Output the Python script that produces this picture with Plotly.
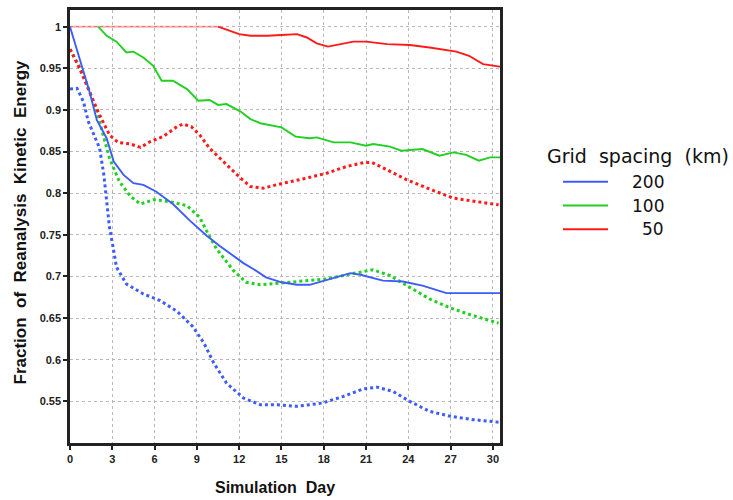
import plotly.graph_objects as go

# Simulation day / fraction of reanalysis kinetic energy, per grid spacing.
# Solid and dotted curves are the two experiment variants for each spacing.
day_200_solid = [0, 0.7, 1.4, 1.9, 2.6, 3.1, 3.8, 4.5, 5.2, 6.1, 7.3, 8.5, 9.7, 10.6, 11.1,
                 12.3, 13.0, 13.9, 15.0, 16.1, 17.0, 18.4, 19.9, 20.6, 22.2, 23.6, 25.0,
                 26.7, 28.1, 30.5]
ke_200_solid = [1.0, 0.961, 0.921, 0.888, 0.866, 0.838, 0.822, 0.812, 0.810, 0.802, 0.787,
                0.767, 0.749, 0.737, 0.731, 0.716, 0.709, 0.699, 0.693, 0.690, 0.690, 0.697,
                0.704, 0.702, 0.695, 0.694, 0.689, 0.680, 0.680, 0.680]

day_200_dotted = [0, 0.5, 0.95, 1.3, 1.65, 2.1, 2.4, 2.6, 2.8, 3.1, 3.3, 4.0, 5.2, 6.4, 7.6,
                  8.7, 9.5, 10.2, 11.1, 12.3, 13.5, 14.7, 16.1, 17.9, 19.4, 20.8, 21.8, 22.9,
                  24.1, 25.5, 27.0, 28.6, 30.4]
ke_200_dotted = [0.925, 0.926, 0.910, 0.886, 0.872, 0.854, 0.822, 0.790, 0.759, 0.731, 0.711,
                 0.691, 0.679, 0.671, 0.658, 0.640, 0.620, 0.596, 0.572, 0.554, 0.546, 0.546,
                 0.544, 0.548, 0.556, 0.565, 0.567, 0.562, 0.550, 0.538, 0.532, 0.528, 0.525]

day_100_solid = [2.0, 2.6, 3.3, 4.0, 4.5, 5.2, 5.9, 6.5, 7.3, 8.3, 9.1, 9.9, 10.5, 11.1, 12.1,
                 12.8, 13.5, 15.0, 16.0, 17.0, 17.5, 18.7, 19.9, 21.0, 21.5, 22.7, 23.5, 25.0,
                 26.2, 27.2, 28.1, 29.0, 29.8, 30.5]
ke_100_solid = [1.0, 0.989, 0.982, 0.969, 0.970, 0.963, 0.953, 0.935, 0.935, 0.925, 0.911,
                0.912, 0.906, 0.907, 0.898, 0.889, 0.884, 0.879, 0.868, 0.866, 0.867, 0.861,
                0.861, 0.857, 0.859, 0.856, 0.851, 0.853, 0.845, 0.849, 0.846, 0.839, 0.843,
                0.843]

day_100_dotted = [0, 0.95, 1.9, 2.4, 2.8, 3.5, 4.3, 5.0, 5.9, 6.6, 7.3, 8.3, 9.2, 9.8, 10.4,
                  11.6, 12.5, 13.5, 14.2, 15.8, 18.2, 19.9, 21.5, 22.7, 24.1, 25.5, 27.0,
                  28.4, 30.4]
ke_100_dotted = [0.973, 0.943, 0.898, 0.866, 0.842, 0.814, 0.796, 0.787, 0.792, 0.791, 0.789,
                 0.785, 0.771, 0.751, 0.733, 0.707, 0.693, 0.690, 0.691, 0.693, 0.697, 0.703,
                 0.708, 0.701, 0.687, 0.673, 0.662, 0.654, 0.644]

day_50_solid = [0, 10.5, 11.2, 12.0, 12.8, 14.0, 15.0, 16.1, 16.8, 17.5, 18.3, 19.2, 20.1,
                21.0, 22.5, 24.1, 25.5, 27.4, 28.3, 29.3, 30.5]
ke_50_solid = [1.0, 1.0, 0.996, 0.991, 0.989, 0.989, 0.990, 0.991, 0.987, 0.980, 0.976,
               0.979, 0.982, 0.982, 0.979, 0.978, 0.975, 0.970, 0.965, 0.955, 0.952]

day_50_dotted = [0, 0.7, 1.4, 2.1, 2.8, 3.4, 4.3, 5.0, 5.7, 6.6, 7.6, 8.0, 8.6, 9.2, 9.9,
                 11.1, 12.1, 12.8, 13.7, 15.1, 16.5, 18.2, 19.6, 20.9, 21.4, 22.5, 23.9,
                 25.5, 27.2, 28.8, 30.4]
ke_50_dotted = [0.973, 0.949, 0.921, 0.894, 0.870, 0.861, 0.859, 0.855, 0.862, 0.868, 0.880,
                0.883, 0.880, 0.870, 0.854, 0.834, 0.818, 0.808, 0.806, 0.812, 0.817, 0.824,
                0.832, 0.837, 0.837, 0.828, 0.816, 0.805, 0.794, 0.790, 0.786]

spacing_labels = ["200", "100", "50"]
x_ticks = list(range(0, 31, 3))
y_ticks = [0.55, 0.6, 0.65, 0.7, 0.75, 0.8, 0.85, 0.9, 0.95, 1.0]

BLUE = "#3c5cff"
GREEN = "#22d022"
RED = "#ff1a1a"
spacing_colors = [BLUE, GREEN, RED]

fig = go.Figure()

# dotted variants first so the solid curves sit on top
for d, v, c in [(day_200_dotted, ke_200_dotted, BLUE),
                (day_100_dotted, ke_100_dotted, GREEN),
                (day_50_dotted, ke_50_dotted, RED)]:
    fig.add_trace(go.Scatter(x=d, y=v, mode="lines", showlegend=False,
                             line=dict(color=c, width=3, dash="dot")))

# the 50 km solid curve: the saturated stretch at 1 is drawn faint
flat_end = max(i for i, v in enumerate(ke_50_solid) if v >= 1.0)
fig.add_trace(go.Scatter(x=day_50_solid[:flat_end + 1], y=ke_50_solid[:flat_end + 1],
                         mode="lines", showlegend=False, opacity=0.35,
                         line=dict(color=RED, width=2)))

for d, v, c in [(day_200_solid, ke_200_solid, BLUE),
                (day_100_solid, ke_100_solid, GREEN),
                (day_50_solid[flat_end:], ke_50_solid[flat_end:], RED)]:
    fig.add_trace(go.Scatter(x=d, y=v, mode="lines", showlegend=False,
                             line=dict(color=c, width=1.9)))

tick_font = dict(family="Liberation Sans", size=11, color="#222", weight="bold")

fig.update_xaxes(range=[0, 30.5], tickvals=x_ticks, ticks="outside", ticklen=4,
                 tickwidth=1.5, tickcolor="#222", tickfont=tick_font,
                 showline=True, linewidth=2.5, linecolor="#222", mirror=True,
                 showgrid=True, gridcolor="#b8b8b8", griddash="dot", gridwidth=1,
                 zeroline=False)
fig.update_yaxes(range=[0.5, 1.02], tickvals=y_ticks, ticks="outside", ticklen=4,
                 tickwidth=1.5, tickcolor="#222", tickfont=tick_font,
                 showline=True, linewidth=2.5, linecolor="#222", mirror=True,
                 showgrid=True, gridcolor="#b8b8b8", griddash="dot", gridwidth=1,
                 zeroline=False)

# axis titles
fig.add_annotation(text="Simulation\u00a0 Day", xref="paper", yref="paper",
                   x=0.4767, y=-0.1032, xanchor="center", yanchor="middle",
                   showarrow=False,
                   font=dict(family="Liberation Sans", size=16, color="#111", weight="bold"))
fig.add_annotation(text="Fraction\u00a0 of\u00a0 Reanalysis\u00a0 Kinetic\u00a0 Energy",
                   xref="paper", yref="paper", x=-0.114, y=0.5115, textangle=-90,
                   xanchor="center", yanchor="middle", showarrow=False,
                   font=dict(family="Liberation Sans", size=17, color="#111", weight="bold"))

# key: title, coloured line samples and right-aligned spacing labels
fig.add_annotation(text="Grid\u00a0 spacing\u00a0 (km)", xref="paper", yref="paper",
                   x=1.1047, y=0.6628, xanchor="left", yanchor="middle", showarrow=False,
                   font=dict(family="DejaVu Sans", size=19, color="#111"))
key_top, key_step = 0.6032, 0.0548
for i, (lab, col) in enumerate(zip(spacing_labels, spacing_colors)):
    yk = key_top - i * key_step
    fig.add_shape(type="line", xref="paper", yref="paper", x0=1.1465, x1=1.2512,
                  y0=yk, y1=yk, line=dict(color=col, width=2))
    fig.add_annotation(text=lab, xref="paper", yref="paper", x=1.386, y=yk,
                       xanchor="right", yanchor="middle", showarrow=False,
                       font=dict(family="DejaVu Sans", size=17, color="#111"))

fig.update_layout(
    width=733, height=500,
    margin=dict(l=70, r=233, t=7, b=57),
    paper_bgcolor="white", plot_bgcolor="white",
    showlegend=False,
)

fig.write_html("out.html")
